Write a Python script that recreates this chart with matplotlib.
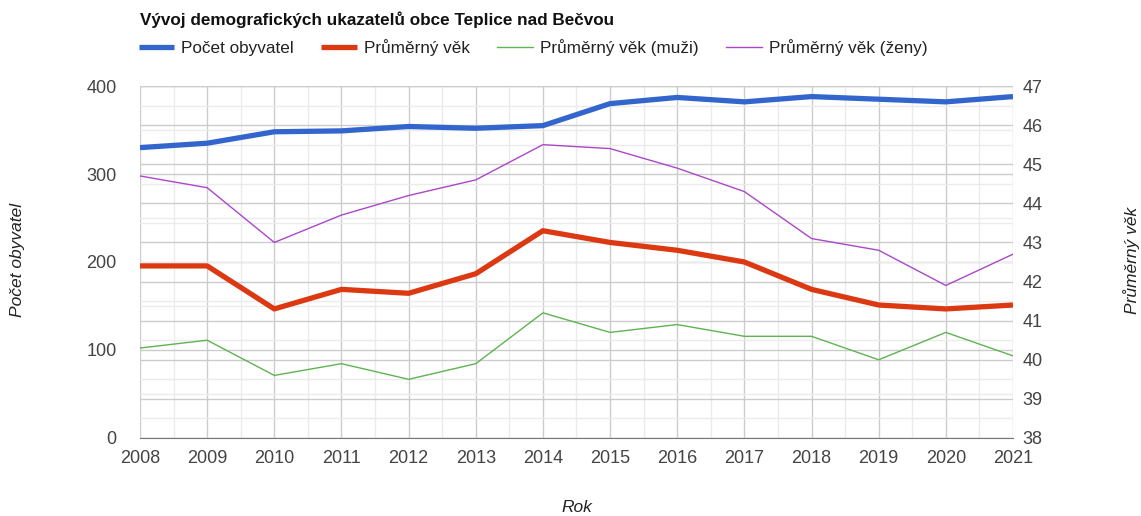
# demografie Teplice nad Becvou - dual axis line chart

import numpy as np
import matplotlib.pyplot as plt
from matplotlib.ticker import MultipleLocator

years = list(range(2008, 2022))
pocet = [330, 335, 348, 349, 354, 352, 355, 380, 387, 382, 388, 385, 382, 388]
vek = [42.4, 42.4, 41.3, 41.8, 41.7, 42.2, 43.3, 43.0, 42.8, 42.5, 41.8, 41.4, 41.3, 41.4]
vek_muzi = [40.3, 40.5, 39.6, 39.9, 39.5, 39.9, 41.2, 40.7, 40.9, 40.6, 40.6, 40.0, 40.7, 40.1]
vek_zeny = [44.7, 44.4, 43.0, 43.7, 44.2, 44.6, 45.5, 45.4, 44.9, 44.3, 43.1, 42.8, 41.9, 42.7]

plt.rcParams['font.family'] = ['Liberation Sans', 'DejaVu Sans']

fig = plt.figure(figsize=(11.41, 5.16), dpi=100)
ax = fig.add_axes([0.1227, 0.1512, 0.7651, 0.6821])
ax2 = ax.twinx()

ax.set_xlim(2008, 2021)
ax.set_ylim(0, 400)
ax2.set_ylim(38, 47)

# grids: both axes draw their own lines
ax.xaxis.set_major_locator(MultipleLocator(1))
ax.xaxis.set_minor_locator(MultipleLocator(0.5))
ax.yaxis.set_major_locator(MultipleLocator(100))
ax.yaxis.set_minor_locator(MultipleLocator(50))
ax2.yaxis.set_major_locator(MultipleLocator(1))
ax2.yaxis.set_minor_locator(MultipleLocator(0.5))
ax.grid(True, which='major', color='#cccccc', lw=1)
ax.grid(True, which='minor', color='#ebebeb', lw=1)
ax2.grid(True, which='major', axis='y', color='#cccccc', lw=1)
ax2.grid(True, which='minor', axis='y', color='#ebebeb', lw=1)
ax.set_axisbelow(True)
ax2.set_axisbelow(True)

l1, = ax2.plot(years, np.array(pocet) / 400 * 9 + 38, color='#3366cc', lw=3.8,
               solid_capstyle='butt', label='Počet obyvatel', zorder=5)
l2, = ax2.plot(years, vek, color='#dc3912', lw=3.8, solid_capstyle='butt',
               label='Průměrný věk', zorder=5)
l3, = ax2.plot(years, vek_muzi, color='#5fb352', lw=1.0, label='Průměrný věk (muži)', zorder=4)
l4, = ax2.plot(years, vek_zeny, color='#ab47c9', lw=1.0, label='Průměrný věk (ženy)', zorder=4)

for a in (ax, ax2):
    for s in a.spines.values():
        s.set_visible(False)
    a.tick_params(which='both', length=0, labelsize=13, colors='#444444')
ax.spines['bottom'].set_visible(True)
ax.spines['bottom'].set_color('#777777')
ax.tick_params(axis='x', pad=9)
ax.tick_params(axis='y', pad=17)
ax2.tick_params(axis='y', pad=7)

fig.text(18 / 1141, 0.5 + 0.1512 / 2 - 0.08, 'Počet obyvatel', rotation=90, style='italic',
         fontsize=12.5, color='#222222', ha='center', va='center')
fig.text(1132 / 1141, 0.5 + 0.1512 / 2 - 0.08, 'Průměrný věk', rotation=90, style='italic',
         fontsize=12.5, color='#222222', ha='center', va='center')
fig.text(0.1227 + 0.7651 / 2, 1 - 508 / 516, 'Rok', style='italic',
         fontsize=12.5, color='#222222', ha='center', va='center')

fig.text(0.1227, 1 - 20 / 516, 'Vývoj demografických ukazatelů obce Teplice nad Bečvou',
         fontsize=12.3, fontweight='bold', color='#111111', va='center')
fig.legend(handles=[l1, l2, l3, l4], loc='center left', bbox_to_anchor=(0.108, 1 - 48 / 516),
           ncol=4, frameon=False, fontsize=12.3, handlelength=2.1, handletextpad=0.4,
           columnspacing=1.6, labelcolor='#222222')

plt.savefig('out.png', dpi=100)
